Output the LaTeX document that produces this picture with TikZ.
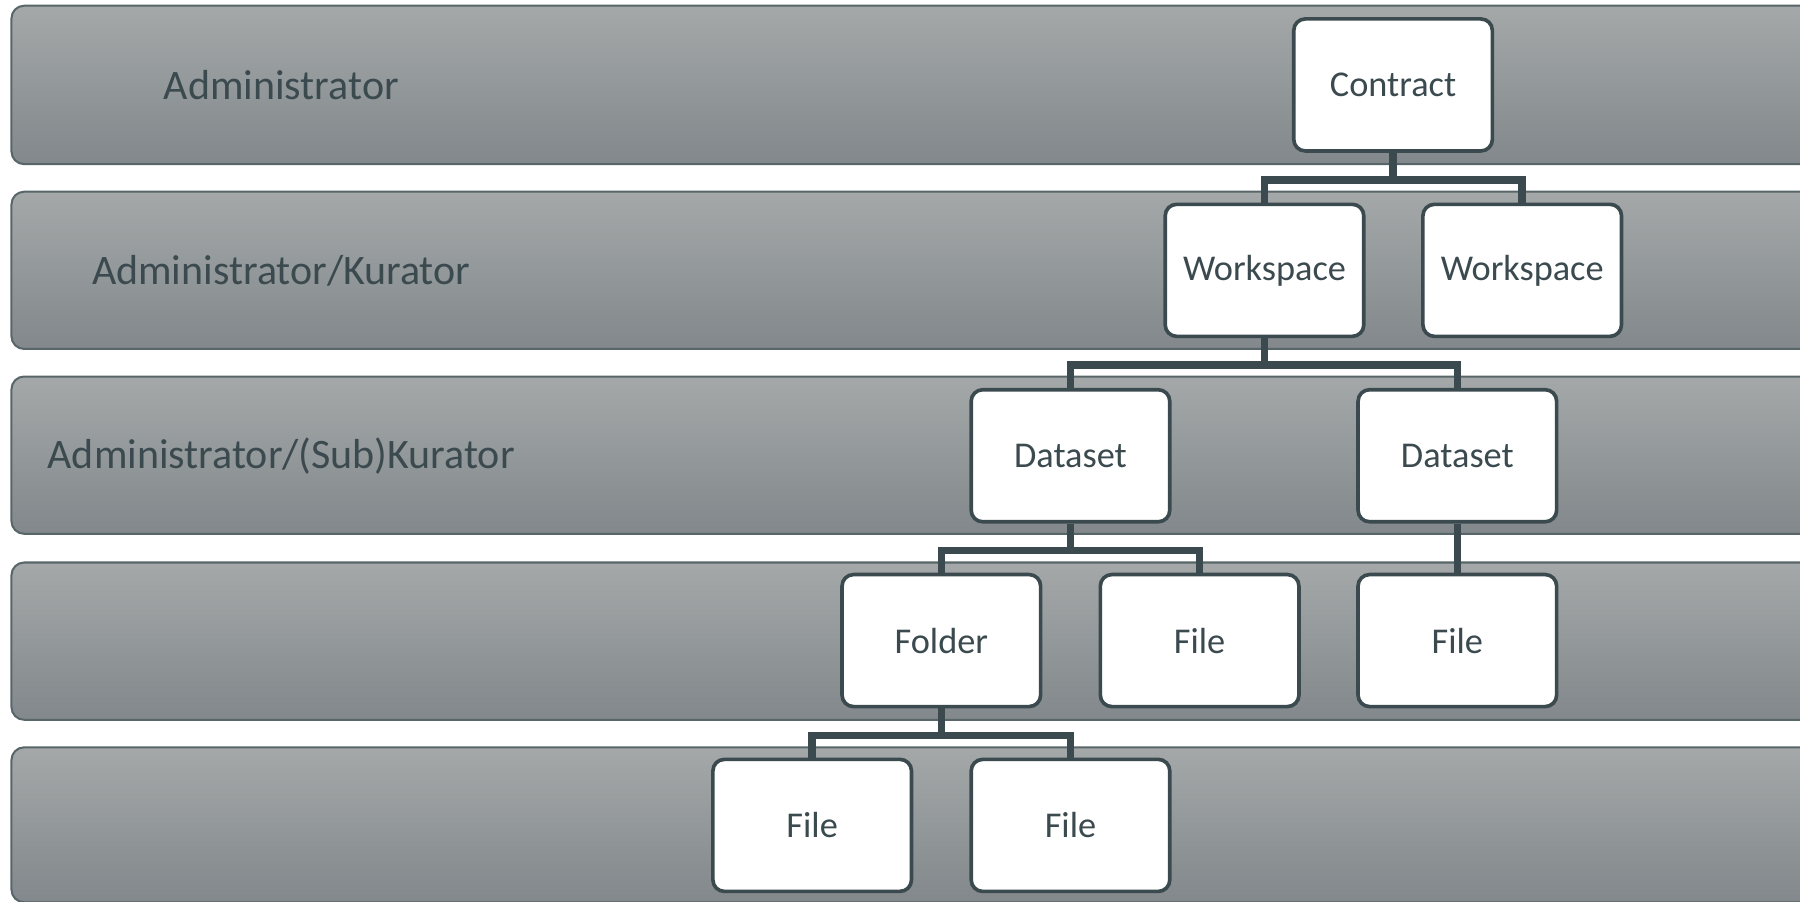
\documentclass[tikz,border=0pt]{standalone}
\usepackage{fontspec}
\setmainfont{Carlito}
\usepackage{xcolor}
\usepackage{tikz}
\definecolor{pizarra}{HTML}{3B4A4F}
\definecolor{grisclaro}{HTML}{A4A8A9}
\definecolor{grisoscuro}{HTML}{82888B}

\begin{document}
\begin{tikzpicture}[
	band/.style = {draw = pizarra!85, line width = 0.5pt, rounded corners = 0.11cm, top color = grisclaro, bottom color = grisoscuro},
	box/.style = {draw = pizarra, line width = 0.9pt, rounded corners = 0.1cm, fill = white, minimum width = 1.73cm, minimum height = 1.15cm, text = pizarra, font = \fontsize{9}{11}\selectfont},
	rol/.style = {text = pizarra, font = \fontsize{10.4}{12}\selectfont},
	tree/.style = {pizarra, line width = 1.9pt}]
	\useasboundingbox (0,0) rectangle (15.68,7.85);
	\clip (0,0) rectangle (15.68,7.85);
	% bandas
	\draw[band] (0.10,6.42) rectangle (16.0,7.80);
	\draw[band] (0.10,4.81) rectangle (16.0,6.18);
	\draw[band] (0.10,3.20) rectangle (16.0,4.57);
	\draw[band] (0.10,1.58) rectangle (16.0,2.95);
	\draw[band] (0.10,-0.01) rectangle (16.0,1.34);
	\node[rol] (admin) at (2.45,7.11) {Administrator};
	\node[rol] (kurator) at (2.45,5.495) {Administrator/Kurator};
	\node[rol] (subkurator) at (2.45,3.88) {Administrator/(Sub)Kurator};
	% nodos
	\node[box] (contract) at (12.135,7.11) {Contract};
	\node[box] (ws1) at (11.015,5.495) {Workspace};
	\node[box] (ws2) at (13.26,5.495) {Workspace};
	\node[box] (ds1) at (9.325,3.88) {Dataset};
	\node[box] (ds2) at (12.695,3.88) {Dataset};
	\node[box] (folder) at (8.20,2.27) {Folder};
	\node[box] (file1) at (10.45,2.27) {File};
	\node[box] (file2) at (12.695,2.27) {File};
	\node[box] (file3) at (7.075,0.66) {File};
	\node[box] (file4) at (9.325,0.66) {File};
	% conexiones
	\draw[tree] (contract.south) -- ++(0,-0.235) -| (ws1.north);
	\draw[tree] (contract.south) -- ++(0,-0.235) -| (ws2.north);
	\draw[tree] (ws1.south) -- ++(0,-0.235) -| (ds1.north);
	\draw[tree] (ws1.south) -- ++(0,-0.235) -| (ds2.north);
	\draw[tree] (ds1.south) -- ++(0,-0.235) -| (folder.north);
	\draw[tree] (ds1.south) -- ++(0,-0.235) -| (file1.north);
	\draw[tree] (ds2.south) -- (file2.north);
	\draw[tree] (folder.south) -- ++(0,-0.235) -| (file3.north);
	\draw[tree] (folder.south) -- ++(0,-0.235) -| (file4.north);
\end{tikzpicture}
\end{document}
